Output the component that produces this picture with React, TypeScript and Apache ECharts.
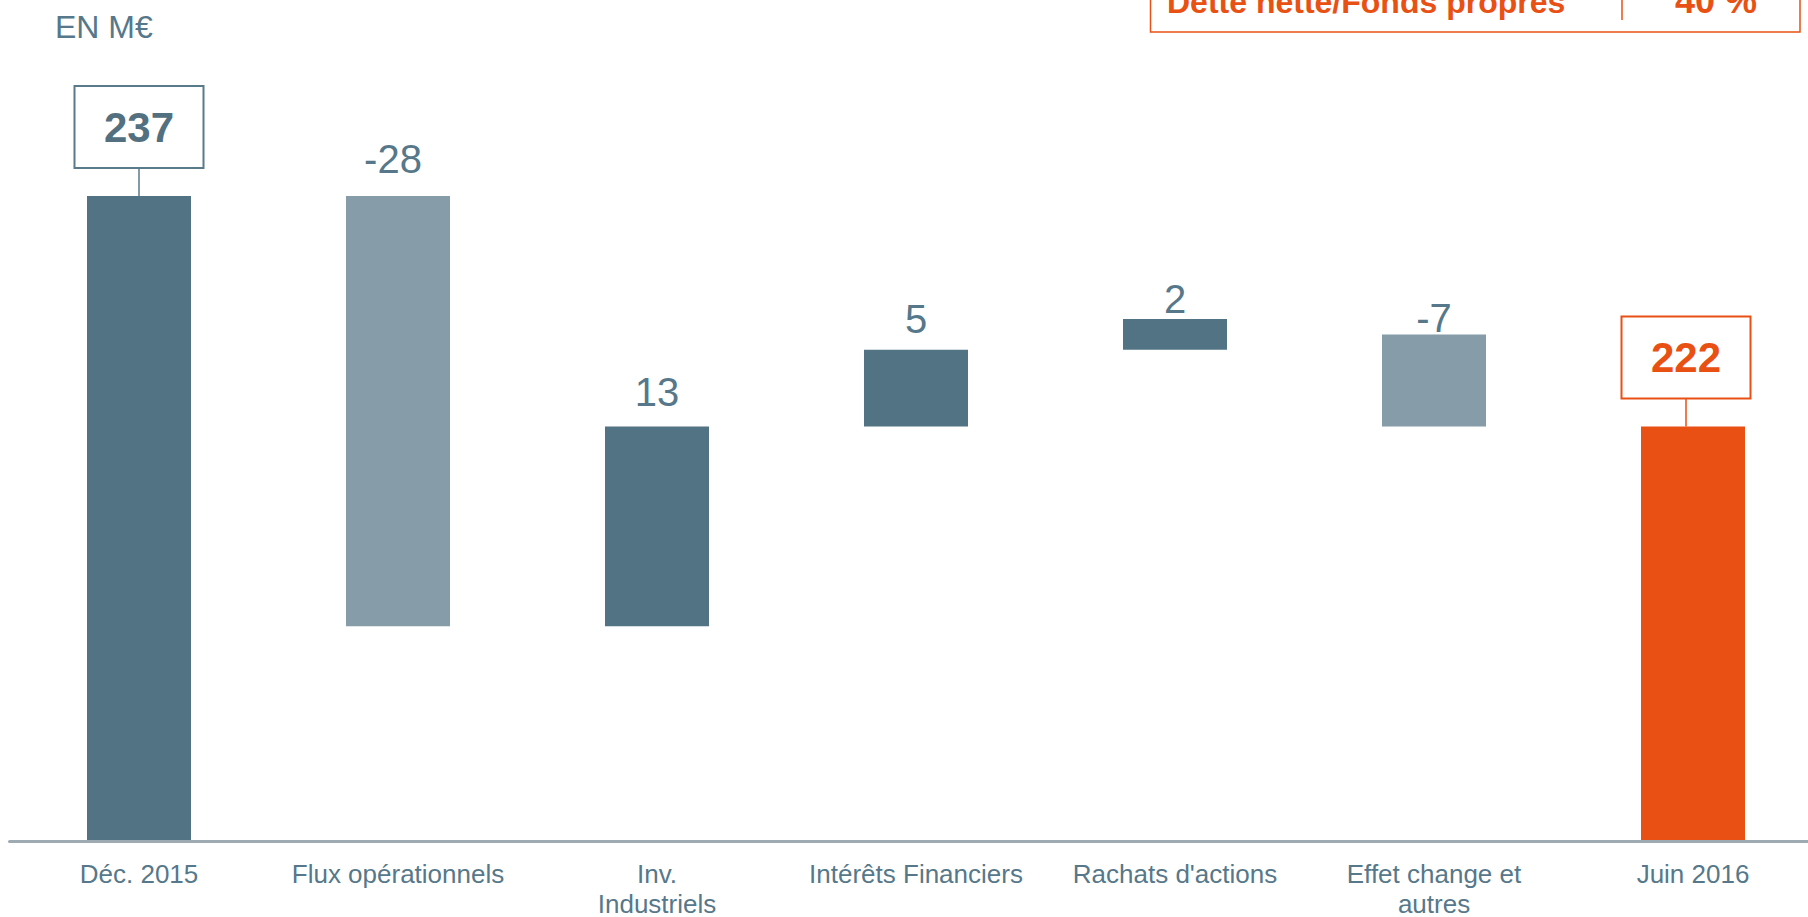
import React, { useEffect, useRef } from "react";
import * as echarts from "echarts";

// ---- data ----
const categories = [
  "Déc. 2015",
  "Flux opérationnels",
  "Inv.\nIndustriels",
  "Intérêts Financiers",
  "Rachats d'actions",
  "Effet change et\nautres",
  "Juin 2016",
];
const printedValues = [237, -28, 13, 5, 2, -7, 222];
// bar bottoms / tops as drawn in the picture (M€)
const barLow = [0, 209, 209, 222, 227, 222, 0];
const barHigh = [237, 237, 222, 227, 229, 228, 222];
const barKinds = ["start", "down", "up", "up", "up", "down", "end"];
const unitLabel = "EN M€";
const ratioLabel = "Dette nette/Fonds propres";
const ratioValue = "40 %";

// ---- styles ----
const FONT = "'Liberation Sans', Arial, Helvetica, sans-serif";
const SLATE = "#517384";
const LIGHT = "#869ca8";
const ORANGE = "#e85113";
const TEXT = "#56788a";
const AXIS = "#9eabb3";
const labelLift = [0, 17, 14.5, 11, 0, -3.5, 0];
const labelShiftX = [0, -5, 0, 0, 0, 0, 0];
const boxShiftX = [0, 0, 0, 0, 0, 0, -7];
const BOX_GAP = 29;

function kindColor(k: string) {
  if (k === "end") return ORANGE;
  if (k === "down") return LIGHT;
  return SLATE;
}

export default function App() {
  const ref = useRef<HTMLDivElement>(null);

  useEffect(() => {
    if (!ref.current) return;
    const chart = echarts.init(ref.current, undefined, { renderer: "svg" });

    const visibleData = barHigh.map((h, i) => {
      const k = barKinds[i];
      const isTotal = k === "start" || k === "end";
      const col = kindColor(k);
      const label = isTotal
        ? {
            show: true,
            position: "top",
            distance: BOX_GAP,
            offset: [boxShiftX[i], 0],
            formatter: String(printedValues[i]),
            fontSize: 42,
            fontWeight: "bold",
            fontFamily: FONT,
            color: k === "end" ? ORANGE : "#52707f",
            borderColor: k === "end" ? ORANGE : "#5a7a8a",
            borderWidth: 2,
            backgroundColor: "#ffffff",
            width: 127,
            height: 80,
            lineHeight: 80,
            padding: 0,
          }
        : {
            show: true,
            position: "top",
            distance: 0,
            offset: [labelShiftX[i], -labelLift[i]],
            formatter: String(printedValues[i]),
            fontSize: 40,
            lineHeight: 40,
            fontFamily: FONT,
            color: TEXT,
          };
      return {
        value: h - barLow[i],
        itemStyle: { color: col },
        label,
      };
    });

    chart.setOption({
      animation: false,
      textStyle: { fontFamily: FONT },
      grid: {
        left: 9.5,
        top: 11.7,
        width: 1813,
        height: 829.8,
        containLabel: false,
        outerBoundsMode: "none",
      },
      xAxis: {
        type: "category",
        data: categories,
        boundaryGap: true,
        z: 3,
        axisLine: { show: true, lineStyle: { color: AXIS, width: 3 } },
        axisTick: { show: false },
        splitLine: { show: false },
        axisLabel: {
          interval: 0,
          fontSize: 26,
          lineHeight: 30,
          color: TEXT,
          margin: 17.5,
          fontFamily: FONT,
          hideOverlap: false,
        },
      },
      yAxis: {
        type: "value",
        min: 195,
        max: 249,
        show: false,
        splitLine: { show: false },
      },
      series: [
        {
          type: "bar",
          stack: "w",
          barWidth: 104,
          clip: true,
          silent: true,
          itemStyle: { color: "rgba(0,0,0,0)" },
          data: barLow,
        },
        {
          type: "bar",
          stack: "w",
          barWidth: 104,
          clip: true,
          data: visibleData,
        },
      ],
    });

    const connectors: any[] = [];
    barKinds.forEach((k, i) => {
      if (k !== "start" && k !== "end") return;
      const p = chart.convertToPixel({ gridIndex: 0 } as any, [i, barHigh[i]]) as number[];
      const x = p[0] + boxShiftX[i];
      connectors.push({
        type: "line",
        silent: true,
        shape: { x1: x, y1: p[1], x2: x, y2: p[1] - BOX_GAP },
        style: { stroke: k === "end" ? ORANGE : "#5a7a8a", lineWidth: 1.5 },
      });
    });

    chart.setOption({
      graphic: {
        elements: [
          {
            type: "text",
            x: 55,
            y: 27.2,
            style: {
              text: unitLabel,
              font: `32px ${FONT}`,
              fill: TEXT,
              align: "left",
              textAlign: "left",
              verticalAlign: "middle",
              textVerticalAlign: "middle",
            },
          },
          {
            type: "rect",
            shape: { x: 1150.5, y: -50, width: 649.5, height: 82 },
            style: { fill: "#ffffff", stroke: ORANGE, lineWidth: 1.5 },
          },
          {
            type: "line",
            shape: { x1: 1622, y1: -5, x2: 1622, y2: 20 },
            style: { stroke: ORANGE, lineWidth: 1.5 },
          },
          {
            type: "text",
            x: 1167,
            y: 1.9,
            style: {
              text: ratioLabel,
              font: `bold 32px ${FONT}`,
              fill: ORANGE,
              align: "left",
              textAlign: "left",
              verticalAlign: "middle",
              textVerticalAlign: "middle",
            },
          },
          {
            type: "text",
            x: 1675,
            y: 0.2,
            style: {
              text: ratioValue,
              font: `bold 36px ${FONT}`,
              fill: ORANGE,
              align: "left",
              textAlign: "left",
              verticalAlign: "middle",
              textVerticalAlign: "middle",
            },
          },
          ...connectors,
        ],
      },
    });

    return () => chart.dispose();
  }, []);

  return (
    <div
      ref={ref}
      style={{ position: "fixed", left: 0, top: 0, width: 1808, height: 917, background: "#ffffff" }}
    />
  );
}
